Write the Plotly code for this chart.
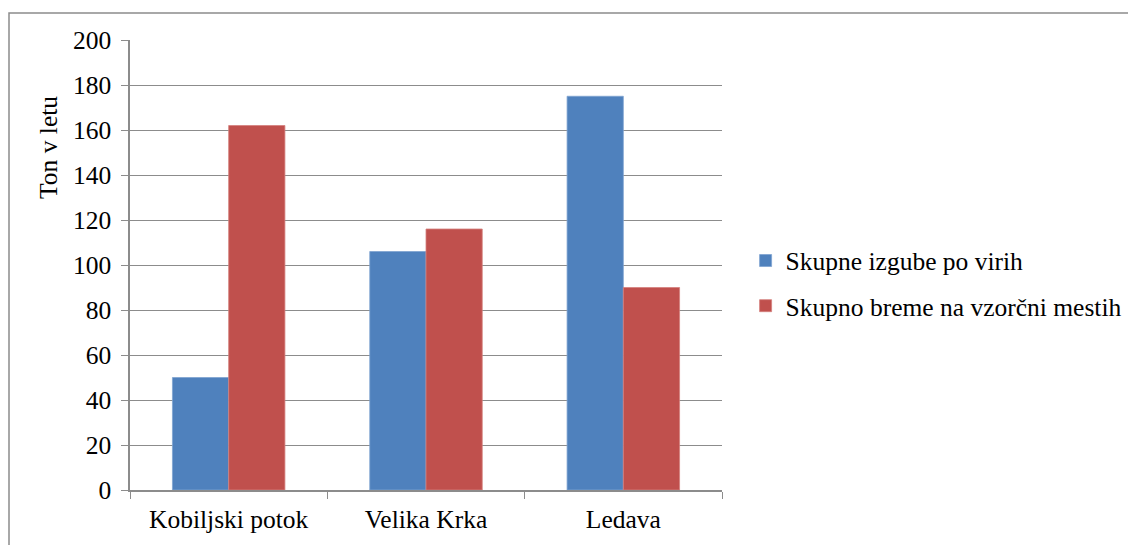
import plotly.graph_objects as go

categories = ["Kobiljski potok", "Velika Krka", "Ledava"]
izgube = [50, 106, 175]
breme = [162, 116, 90]
series_names = ["Skupne izgube po virih", "Skupno breme na vzorčni mestih"]
y_ticks = list(range(0, 201, 20))
y_title = "Ton v letu"

FONT = "Liberation Serif"
GRID = "#8c8c8c"
FS = 25.5

L, T = 130, 40
PW, PH = 592, 450

fig = go.Figure()
fig.add_trace(go.Bar(x=categories, y=izgube, name=series_names[0], legendgroup="a",
                     marker=dict(color="#4F81BD", line=dict(color="#7fa3d0", width=0.8))))
fig.add_trace(go.Bar(x=categories, y=breme, name=series_names[1], legendgroup="b",
                     marker=dict(color="#C0504D", line=dict(color="#d4807d", width=0.8))))

fig.update_layout(
    width=1128, height=545,
    margin=dict(l=L, r=1128 - L - PW, t=T, b=545 - T - PH, autoexpand=False),
    paper_bgcolor="white", plot_bgcolor="white",
    font=dict(family=FONT, size=FS, color="black"),
    barmode="group", bargap=0.43, bargroupgap=0,
    showlegend=True,
    legend=dict(x=(745.6 - L) / PW, y=0.459, xanchor="left", yanchor="middle",
                font=dict(family=FONT, size=FS, color="black"),
                tracegroupgap=9, traceorder="grouped",
                bgcolor="rgba(0,0,0,0)"),
    xaxis=dict(showline=True, linecolor=GRID, linewidth=1.5,
               ticks="outside", tickson="boundaries", ticklen=7, tickcolor=GRID,
               tickfont=dict(family=FONT, size=FS, color="black"),
               ticklabelstandoff=6,
               showgrid=False),
    yaxis=dict(range=[0, 200], tickvals=y_ticks, showline=True, linecolor=GRID, linewidth=1.5,
               ticks="outside", ticklen=7, tickcolor=GRID,
               showgrid=True, gridcolor=GRID, gridwidth=1.2,
               tickfont=dict(family=FONT, size=FS, color="black"),
               ticklabelstandoff=5,
               zeroline=False),
    annotations=[dict(text=y_title, textangle=-90, xref="paper", yref="paper",
                      x=(48 - L) / PW, y=1 - (148 - T) / PH,
                      xanchor="center", yanchor="middle", showarrow=False,
                      font=dict(family=FONT, size=FS, color="black"))],
    shapes=[dict(type="rect", xref="paper", yref="paper",
                 x0=(9 - L) / PW, x1=(1140 - L) / PW,
                 y0=(PH + T - 560) / PH, y1=(PH + T - 13) / PH,
                 line=dict(color="#8c8c8c", width=1.5), fillcolor="rgba(0,0,0,0)", layer="below")],
)

fig.write_html(
    "out.html",
    config={"displayModeBar": False},
    post_script="document.body.style.margin='0';document.body.style.overflow='hidden';",
)
